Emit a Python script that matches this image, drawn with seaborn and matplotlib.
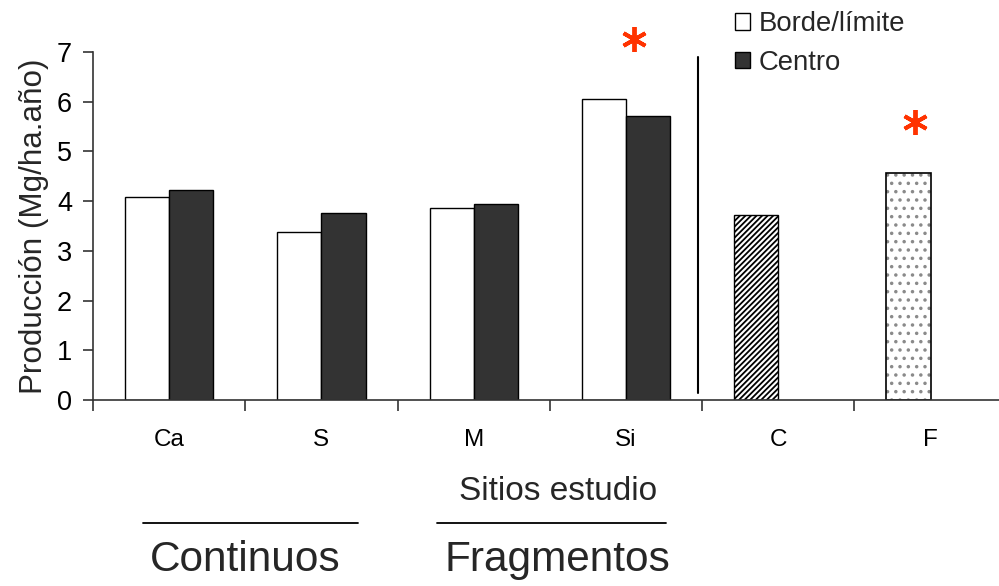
import matplotlib
matplotlib.use("Agg")
import matplotlib.pyplot as plt
import matplotlib.transforms as mtransforms
from matplotlib.patches import Patch
from matplotlib.lines import Line2D
import numpy as np
import pandas as pd
import seaborn as sns

# Sites and annual production (Mg/ha.año)
sites = ["Ca", "S", "M", "Si", "C", "F"]
borde = [4.08, 3.37, 3.86, 6.05, 3.73, 4.56]
centro = [4.22, 3.77, 3.94, 5.71, np.nan, np.nan]
series_names = ["Borde/límite", "Centro"]
groups = ["Continuos", "Fragmentos"]
significant = ["Si", "F"]

sns.set_theme(style="white")
plt.rcParams["font.family"] = ["Liberation Sans", "DejaVu Sans"]
plt.rcParams["hatch.linewidth"] = 1.3

df = pd.DataFrame({
    "sitio": sites * 2,
    "serie": [series_names[0]] * len(sites) + [series_names[1]] * len(sites),
    "valor": borde + centro,
})
df = df.dropna()

fig = plt.figure(figsize=(9.99, 5.86), dpi=100)
ax = fig.add_axes([93 / 999, 1 - 400 / 586, 906 / 999, (400 - 52) / 586])

sns.barplot(data=df, x="sitio", y="valor", hue="serie", order=sites,
            hue_order=series_names, palette=["white", "#333333"],
            width=0.58, edgecolor="black", linewidth=1.0, saturation=1,
            legend=False, ax=ax)

# Fill styles for the single-series sites C and F
for p in list(ax.patches):
    cx = p.get_x() + p.get_width() / 2
    idx = int(round(cx + 0.145))
    if p.get_facecolor()[0] < 0.5 or not (0 <= idx < len(sites)):
        continue
    if sites[idx] == "C":
        p.set_hatch("//////")
        p.set_edgecolor("black")
    elif sites[idx] == "F":
        p.set_hatch("..")
        p.set_edgecolor("#8a8a8a")
        p.set_linewidth(0)
        ax.bar(cx, p.get_height(), width=p.get_width(), fill=False,
               edgecolor="black", linewidth=1.2)

ax.set_ylim(0, 7)
ax.set_yticks(range(0, 8))
ax.set_xticks(range(len(sites)))
ax.set_xticklabels(sites)
ax.set_xticks(np.arange(-0.5, 5.6, 1.0), minor=True)
ax.set_xlim(-0.5, 5.449)

for s in ["top", "right"]:
    ax.spines[s].set_visible(False)
for s in ["left", "bottom"]:
    ax.spines[s].set_color("#333333")
    ax.spines[s].set_linewidth(1.2)

ax.tick_params(axis="y", left=True, direction="out", length=7, width=1.2,
               color="#333333", pad=8, labelsize=19.5, labelcolor="black")
ax.tick_params(axis="x", which="major", length=0, pad=21, labelsize=17.5,
               labelcolor="black")
ax.tick_params(axis="x", which="minor", bottom=True, direction="out",
               length=8, width=1.2, color="#333333")

ax.set_xlabel("")
ax.set_ylabel("Producción (Mg/ha.año)", fontsize=22.6, labelpad=6)

# Separator between the paired and single-series sites
ax.plot([3.472, 3.472], [0.14, 6.9], color="black", lw=1.5, clip_on=False)

# Significance marks
for s in significant:
    i = sites.index(s)
    top = np.nanmax([borde[i], centro[i]])
    dx, dy = (0.05, 1.22) if s == "Si" else (-0.10, 1.03)
    ax.plot(i + dx, top + dy, marker=(6, 2, 0), markersize=18, mew=2.8,
            color="#FF3300", linestyle="none", clip_on=False)

# Axis title and group brackets
trans = mtransforms.blended_transform_factory(ax.transData, fig.transFigure)
ax.text(2.553, 1 - 491 / 586, "Sitios estudio", transform=trans,
        ha="center", va="center", fontsize=24)
for g, xc, half, xt in [(groups[0], 0.534, 0.706, 0.498),
                        (groups[1], 2.51, 0.75, 2.547)]:
    fig.add_artist(Line2D([xc - half, xc + half], [1 - 523 / 586] * 2,
                          transform=trans, color="black", lw=1.3))
    ax.text(xt, 1 - 560 / 586, g, transform=trans, ha="center", va="center",
            fontsize=30.5)

# Legend
handles = [Patch(facecolor="white", edgecolor="black", linewidth=1.0),
           Patch(facecolor="#333333", edgecolor="black", linewidth=1.0)]
fig.legend(handles, series_names, loc="upper left",
           bbox_to_anchor=(716 / 999, 1 + 8 / 586), frameon=False,
           fontsize=19.8, handlelength=0.54, handleheight=0.54,
           handletextpad=0.3, labelspacing=0.45, borderpad=0.2)

fig.savefig("out.png", dpi=100)
